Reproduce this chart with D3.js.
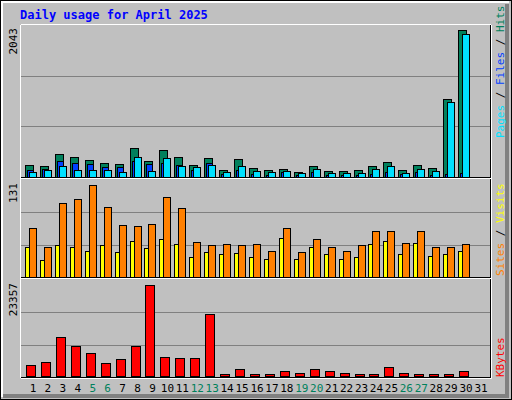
<!DOCTYPE html><html><head><meta charset="utf-8"><script src="https://cdn.jsdelivr.net/npm/d3@7"></script>
<style>body{margin:0;background:#fff}</style></head><body><svg id="c" width="512" height="400"></svg>
<script>
const days=d3.range(1,32);
const weekends=[5,6,12,13,19,20,26,27];
const hits=[162,148,314,272,231,189,175,397,217,370,272,162,259,92,245,120,92,106,65,148,78,78,92,148,203,92,162,120,1076,2043,0];
const files=[92,106,212,189,175,134,134,217,175,189,162,92,189,37,92,30,23,65,23,65,23,23,23,37,65,37,65,23,37,46,0];
const pages=[65,92,148,92,92,92,65,272,78,259,148,134,162,65,148,78,65,78,51,106,51,51,51,106,148,51,106,78,1035,1977,0];
const visits=[69,42,104,110,131,99,73,72,75,113,97,49,45,46,45,46,37,69,35,53,42,37,45,65,65,47,65,42,42,46,0];
const sites=[42,23,45,42,36,45,35,50,40,53,46,28,35,32,33,28,25,55,25,42,32,25,28,46,50,32,47,29,32,37,0];
const kbytes=[2642,3409,9800,7500,5710,3150,4175,7500,23357,4690,4430,4430,15680,340,1620,340,340,1100,600,1620,1100,600,340,340,2130,600,340,340,340,1100,0];
const maxTop=2043,maxMid=131,maxBot=23357;

const svg=d3.select("#c");
const F="'DejaVu Sans Mono', monospace";
// frame
svg.append("rect").attr("x",0.5).attr("y",0.5).attr("width",511).attr("height",399).attr("fill","#c0c0c0").attr("stroke","#000");
svg.append("path").attr("d","M2,397V2H509").attr("stroke","#fff").attr("fill","none").attr("stroke-width",2);
svg.append("path").attr("d","M3,396H507V4").attr("stroke","#808080").attr("fill","none").attr("stroke-width",4);
svg.append("text").attr("x",20).attr("y",19).attr("fill","#0000ff").attr("font-family",F).attr("font-weight","bold").attr("font-size",12).text("Daily usage for April 2025");

const x=d3.scaleLinear().domain([1,31]).range([25,473]);
const panels=[{t:25,b:177},{t:180,b:277},{t:280,b:377}];
// plot box
svg.append("rect").attr("x",20.5).attr("y",24.5).attr("width",470).attr("height",353).attr("fill","#c0c0c0").attr("stroke","#000");
svg.append("path").attr("d","M20.5,378V24.5H491").attr("stroke","#fff").attr("fill","none");
svg.append("path").attr("d","M21,378.5H491.5V25").attr("stroke","#fff").attr("fill","none");
[178.5,278.5].forEach(y=>svg.append("line").attr("x1",21).attr("x2",491).attr("y1",y).attr("y2",y).attr("stroke","#fff"));
[177.5,277.5].forEach(y=>svg.append("line").attr("x1",21).attr("x2",491).attr("y1",y).attr("y2",y).attr("stroke","#000"));
panels.forEach(p=>{const h=(p.b-p.t)/3;[1,2].forEach(i=>svg.append("line").attr("x1",21).attr("x2",490).attr("y1",Math.round(p.t+h*i)+0.5).attr("y2",Math.round(p.t+h*i)+0.5).attr("stroke","#808080"));});

const yT=d3.scaleLinear().domain([0,maxTop]).range([176.5,29.5]);
const yM=d3.scaleLinear().domain([0,maxMid]).range([276.5,184.5]);
const yB=d3.scaleLinear().domain([0,maxBot]).range([375.5,284.5]);
function bars(data,y,off,w,col){
 svg.append("g").selectAll("rect").data(data.map((v,i)=>({v,d:i+1})).filter(o=>o.v>0)).join("rect")
 .attr("x",o=>Math.round(x(o.d))+off+0.5).attr("y",o=>Math.round(y(o.v))+0.5).attr("width",w)
 .attr("height",o=>Math.max(0,Math.round(y(0))-Math.round(y(o.v)))).attr("fill",col).attr("stroke","#000");
}
bars(hits,yT,0,8,"#00805c");
bars(files,yT,2,6,"#0040ff");
bars(pages,yT,4,7,"#00e0ff");
bars(sites,yM,0,5,"#ffff00");
bars(visits,yM,4,7,"#ff8000");
bars(kbytes,yB,1,9,"#ff0000");

// max labels
[[maxTop,25],[maxMid,180],[maxBot,280]].forEach(([v,t])=>svg.append("text").attr("transform",`translate(17,${t+3}) rotate(-90)`).attr("text-anchor","end").attr("font-family",F).attr("font-size",11).attr("fill","#000").text(v));
// day labels
svg.append("g").selectAll("text").data(days).join("text").attr("x",d=>x(d)+8).attr("y",392).attr("text-anchor","middle")
 .attr("font-family",F).attr("font-size",11).attr("fill",d=>weekends.includes(d)?"#00805c":"#000").text(d=>d);
// right legends
function legend(y0,parts){const t=svg.append("text").attr("transform",`translate(504,${y0}) rotate(-90)`).attr("font-family",F).attr("font-size",11);
 parts.forEach(([s,c])=>t.append("tspan").attr("fill",c).text(s));}
legend(138,[["Pages","#00e0ff"],[" / ","#000"],["Files","#0040ff"],[" / ","#000"],["Hits","#00805c"]]);
legend(276,[["Sites","#ff8000"],[" / ","#000"],["Visits","#ffff00"]]);
legend(377,[["KBytes","#ff0000"]]);
</script></body></html>
